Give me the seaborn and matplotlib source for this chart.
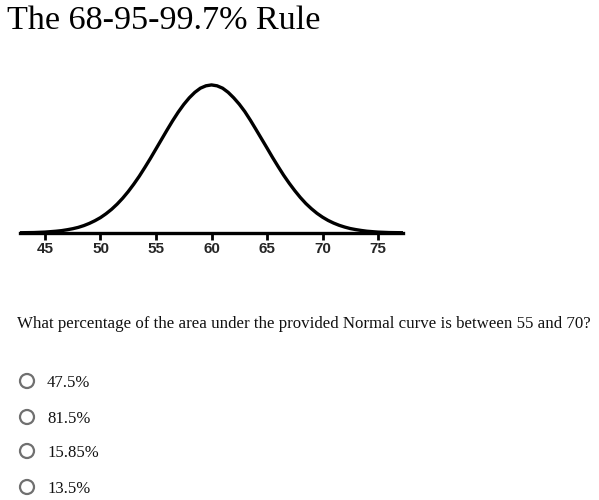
import pandas as pd
import matplotlib.pyplot as plt
from matplotlib.patches import Circle
import seaborn as sns

title = "The 68-95-99.7% Rule"
question = "What percentage of the area under the provided Normal curve is between 55 and 70?"
choices = ["47.5%", "81.5%", "15.85%", "13.5%"]

# curve heights (peak = 1)
x_values = [42, 43, 44, 45,
            46, 46.5, 47, 47.5, 48, 48.5, 49, 49.5, 50, 50.5,
            51, 51.5, 52, 52.5, 53, 53.5, 54, 54.5, 55, 55.5,
            56, 56.5, 57, 57.5, 58, 58.5, 59, 59.5, 60, 60.5,
            61, 61.5, 62, 62.5, 63, 63.5, 64, 64.5, 65, 65.5,
            66, 66.5, 67, 67.5, 68, 68.5, 69, 69.5, 70, 70.5,
            71, 71.5, 72, 72.5, 73, 73.5, 74,
            75, 76, 77, 78]
heights = [0.001, 0.002, 0.003, 0.006,
           0.012, 0.016, 0.022, 0.029, 0.038, 0.050, 0.065, 0.083, 0.104, 0.130,
           0.160, 0.195, 0.235, 0.280, 0.330, 0.384, 0.443, 0.504, 0.568, 0.632,
           0.696, 0.758, 0.816, 0.868, 0.913, 0.950, 0.978, 0.994, 1.000, 0.994,
           0.978, 0.950, 0.913, 0.870, 0.820, 0.762, 0.700, 0.637, 0.574, 0.510,
           0.449, 0.390, 0.336, 0.286, 0.240, 0.199, 0.164, 0.133, 0.107, 0.085,
           0.067, 0.052, 0.040, 0.030, 0.023, 0.017, 0.012,
           0.006, 0.003, 0.002, 0.001]
tick_values = [45, 50, 55, 60, 65, 70, 75]

sns.set_theme(style="white")
plt.rcParams['font.family'] = ['Liberation Serif', 'DejaVu Serif']

fig = plt.figure(figsize=(5.99, 5.0), dpi=100)

# page layer in pixel units for the text and radio buttons
page = fig.add_axes([0, 0, 1, 1])
page.set_xlim(0, 599)
page.set_ylim(500, 0)
page.axis('off')

ax = fig.add_axes([20 / 599, (500 - 233) / 500, 383 / 599, 154 / 500])
df = pd.DataFrame({"x": x_values, "height": heights})
sns.lineplot(data=df, x="x", y="height", ax=ax, color="black", lw=2.4)
ax.set_xlim(42.75, 77.25)
ax.set_ylim(0, 1.04)
ax.patch.set_alpha(0)
for side in ["top", "left", "right"]:
    ax.spines[side].set_visible(False)
ax.spines["bottom"].set_color("black")
ax.spines["bottom"].set_linewidth(2.4)
ax.set_yticks([])
ax.set_xticks(tick_values)
ax.tick_params(axis='x', bottom=True, direction='out', length=5, width=2,
               color='black', pad=1.5, labelsize=11)
for lbl in ax.get_xticklabels():
    lbl.set_fontfamily('Liberation Sans')
    lbl.set_fontweight('bold')
ax.set_xlabel('')
ax.set_ylabel('')

page.text(7, 29, title, fontsize=24.6, va='baseline', ha='left', color='black')
page.text(17, 328, question, fontsize=12.2, va='baseline', ha='left', color='#111')

rows = [381, 417, 451, 487]
for y, label in zip(rows, choices):
    page.add_patch(Circle((27, y), 7, fill=False, ec='#707070', lw=1.6))
    page.text(47, y + 6, label, fontsize=12, va='baseline', ha='left', color='#111')

fig.savefig("out.png", dpi=100)
